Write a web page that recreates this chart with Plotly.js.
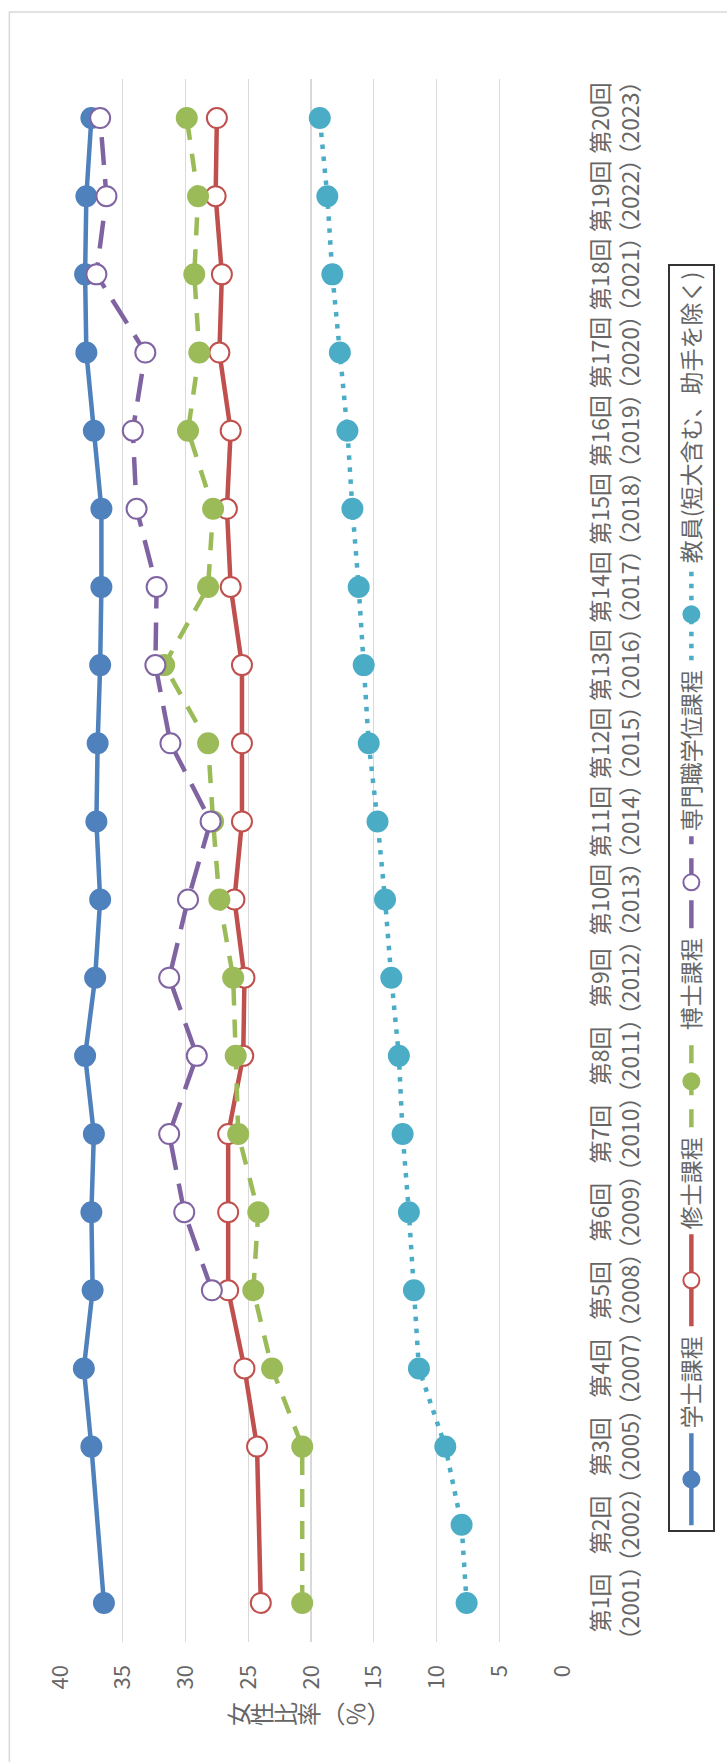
<!DOCTYPE html>
<html>
<head>
<meta charset="utf-8">
<script src="https://cdn.plot.ly/plotly-3.0.1.min.js"></script>
<style>
  html, body { margin: 0; padding: 0; width: 727px; height: 1762px; overflow: hidden; background: #ffffff; }
  #chart { position: absolute; left: 0; top: 0; width: 1762px; height: 727px;
           transform-origin: 0 0; transform: translateY(1762px) rotate(-90deg); }
</style>
</head>
<body>
<div id="chart"></div>
<script>
// ---- data ----
const rounds = ['第1回','第2回','第3回','第4回','第5回','第6回','第7回','第8回','第9回','第10回',
                '第11回','第12回','第13回','第14回','第15回','第16回','第17回','第18回','第19回','第20回'];
const years = ['2001','2002','2005','2007','2008','2009','2010','2011','2012','2013',
               '2014','2015','2016','2017','2018','2019','2020','2021','2022','2023'];
const seriesNames = ['学士課程','修士課程','博士課程','専門職学位課程','教員(短大含む、助手を除く)'];
const bachelor = [36.5, null, 37.5, 38.1, 37.4, 37.5, 37.3, 38.0, 37.2, 36.8,
                  37.1, 37.0, 36.8, 36.7, 36.7, 37.3, 37.9, 38.0, 37.9, 37.5];
const master   = [24.0, null, 24.3, 25.3, 26.6, 26.6, 26.6, 25.4, 25.3, 26.1,
                  25.5, 25.5, 25.5, 26.4, 26.7, 26.4, 27.3, 27.1, 27.6, 27.5];
const doctor   = [20.7, null, 20.7, 23.1, 24.6, 24.2, 25.8, 26.0, 26.2, 27.3,
                  27.8, 28.2, 31.7, 28.2, 27.8, 29.8, 28.9, 29.3, 29.0, 29.9];
const professional = [null, null, null, null, 27.9, 30.1, 31.3, 29.1, 31.3, 29.8,
                  28.0, 31.2, 32.4, 32.3, 33.9, 34.2, 33.2, 37.1, 36.3, 36.8];
const faculty  = [7.6, 8.0, 9.3, 11.4, 11.8, 12.2, 12.7, 13.0, 13.6, 14.1,
                  14.7, 15.4, 15.8, 16.2, 16.7, 17.1, 17.7, 18.3, 18.7, 19.3];
const valueTicks = [0, 5, 10, 15, 20, 25, 30, 35, 40];
const axisTitleChars = ['女','性','比','率','︵','％','︶'];

// ---- build ----
const categories = rounds.map((r, i) => r + '<br>（' + years[i] + '）');
const FONT = '"Noto Sans CJK JP", "Noto Sans", sans-serif';
const TXT = '#666666';

const styles = [
  {color: '#4f81bd', dash: 'solid', fill: '#4f81bd'},
  {color: '#c0504d', dash: 'solid', fill: '#ffffff'},
  {color: '#9bbb59', dash: '18px,14px', fill: '#9bbb59'},
  {color: '#8064a2', dash: '28px,14px', fill: '#ffffff'},
  {color: '#4bacc6', dash: '4.5px,7.5px', fill: '#4bacc6'}
];
const values = [bachelor, master, doctor, professional, faculty];

const traces = values.map((v, i) => ({
  type: 'scatter',
  mode: 'lines+markers',
  name: seriesNames[i],
  x: categories,
  y: v,
  connectgaps: true,
  line: {color: styles[i].color, width: 4.5, dash: styles[i].dash},
  marker: {symbol: 'circle', size: 20, color: styles[i].fill,
           line: {color: styles[i].color, width: 2}}
}));

const layout = {
  width: 1762, height: 727,
  margin: {l: 120, r: 79, t: 60, b: 161},
  paper_bgcolor: '#ffffff', plot_bgcolor: '#ffffff',
  font: {family: FONT, color: TXT, size: 22},
  showlegend: true,
  legend: {
    orientation: 'h', x: 0.0702, y: -0.211, xanchor: 'left', yanchor: 'top',
    bordercolor: '#333333', borderwidth: 2, bgcolor: '#ffffff',
    font: {family: FONT, size: 23, color: TXT},
    itemwidth: 92, traceorder: 'normal'
  },
  xaxis: {
    type: 'category', range: [-0.5, 19.5],
    showgrid: false, zeroline: false, showline: false,
    ticks: '', tickangle: 0, tickfont: {family: FONT, size: 23, color: TXT},
    ticklabelstandoff: 23, fixedrange: true
  },
  yaxis: {
    range: [0, 40], tickvals: valueTicks, ticktext: valueTicks.map(String),
    showgrid: true, gridcolor: '#d9d9d9', gridwidth: 1.4,
    zeroline: false, showline: false, ticks: '', tickangle: 0,
    tickfont: {family: FONT, size: 22, color: TXT},
    ticklabelstandoff: 22, fixedrange: true
  },
  shapes: [{
    type: 'rect', xref: 'paper', yref: 'paper',
    x0: -0.3, x1: 1.0429, y0: -0.6, y1: 1.1009,
    line: {color: '#d9d9d9', width: 1.5}, fillcolor: 'rgba(0,0,0,0)', layer: 'below'
  }],
  annotations: [{
    xref: 'paper', yref: 'paper', x: -0.046, y: 0.506,
    xanchor: 'center', yanchor: 'middle', showarrow: false,
    text: axisTitleChars.map(c => '<span style="font-size:24px">' + c + '</span>').join('<br>'),
    font: {family: FONT, size: 18, color: TXT}
  }]
};

Plotly.newPlot('chart', traces, layout, {displayModeBar: false, staticPlot: true});
</script>
</body>
</html>
